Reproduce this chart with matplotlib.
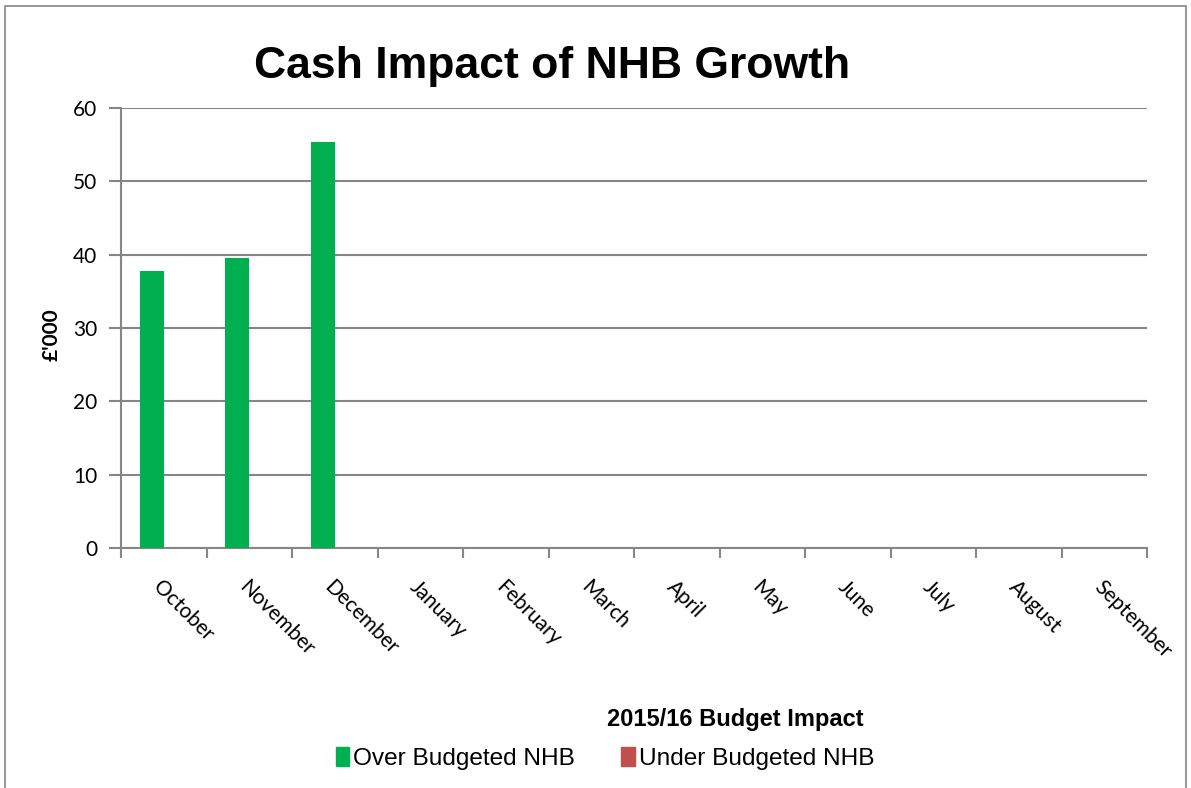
import numpy as np
import matplotlib
matplotlib.use('Agg')
import matplotlib.pyplot as plt
from matplotlib.patches import Rectangle, Patch

months = ['October', 'November', 'December', 'January', 'February', 'March',
          'April', 'May', 'June', 'July', 'August', 'September']
over_budget = [37.7, 39.6, 55.3, 0, 0, 0, 0, 0, 0, 0, 0, 0]
under_budget = [0, 0, 0, 0, 0, 0, 0, 0, 0, 0, 0, 0]
yticks = [0, 10, 20, 30, 40, 50, 60]

green = '#00B050'
red = '#C0504D'
grey = '#868686'

fig = plt.figure(figsize=(11.91, 7.88), dpi=100)
ax = fig.add_axes([0.1016, 0.3046, 0.8616, 0.5584])

x = np.arange(len(months))
w = 0.28
ax.bar(x - w / 2, over_budget, width=w, color=green, zorder=3)
ax.bar(x + w / 2, under_budget, width=w, color=red, zorder=3)

ax.set_xlim(-0.5, len(months) - 0.5)
ax.set_ylim(0, 60)
ax.set_yticks(yticks)
ax.set_yticklabels([str(t) for t in yticks], fontsize=15, family='Lato')
ax.yaxis.grid(True, color=grey, lw=1.5, zorder=0)

# category labels, ticks at boundaries
ax.set_xticks(x)
ax.set_xticklabels(months, rotation=-45, ha='left', va='top',
                   rotation_mode='anchor', fontsize=15, family='Lato')
ax.tick_params(axis='x', length=0, pad=21)
ax.set_xticks(np.arange(len(months) + 1) - 0.5, minor=True)
ax.tick_params(axis='x', which='minor', length=7, width=1.5, color=grey)
ax.tick_params(axis='y', length=9, width=1.5, color=grey, pad=8)

for s in ['top', 'right']:
    ax.spines[s].set_visible(False)
for s in ['left', 'bottom']:
    ax.spines[s].set_color(grey)
    ax.spines[s].set_linewidth(1.5)

ax.set_ylabel("£'000", fontsize=15, fontweight='bold', family='Lato')
ax.yaxis.set_label_coords(-0.058, 0.485)

fig.text(0.4635, 0.916, 'Cash Impact of NHB Growth', ha='center', va='center',
         fontsize=32, fontweight='bold', family='Liberation Sans')
fig.text(0.617, 0.087, '2015/16 Budget Impact', ha='center', va='center',
         fontsize=17, fontweight='bold', family='Liberation Sans')

handles = [Patch(color=green, label='Over Budgeted NHB'),
           Patch(color=red, label='Under Budgeted NHB')]
fig.legend(handles=handles, loc='center', bbox_to_anchor=(0.508, 0.037), ncol=2,
           frameon=False, prop={'family': 'Liberation Sans', 'size': 17.6},
           handlelength=0.55, handleheight=0.8, handletextpad=0.15, columnspacing=1.9)

fig.patches.append(Rectangle((0.004, -0.01), 0.992, 1.003, transform=fig.transFigure,
                             fill=False, edgecolor=grey, lw=1.2))

fig.savefig('out.png', dpi=100)
